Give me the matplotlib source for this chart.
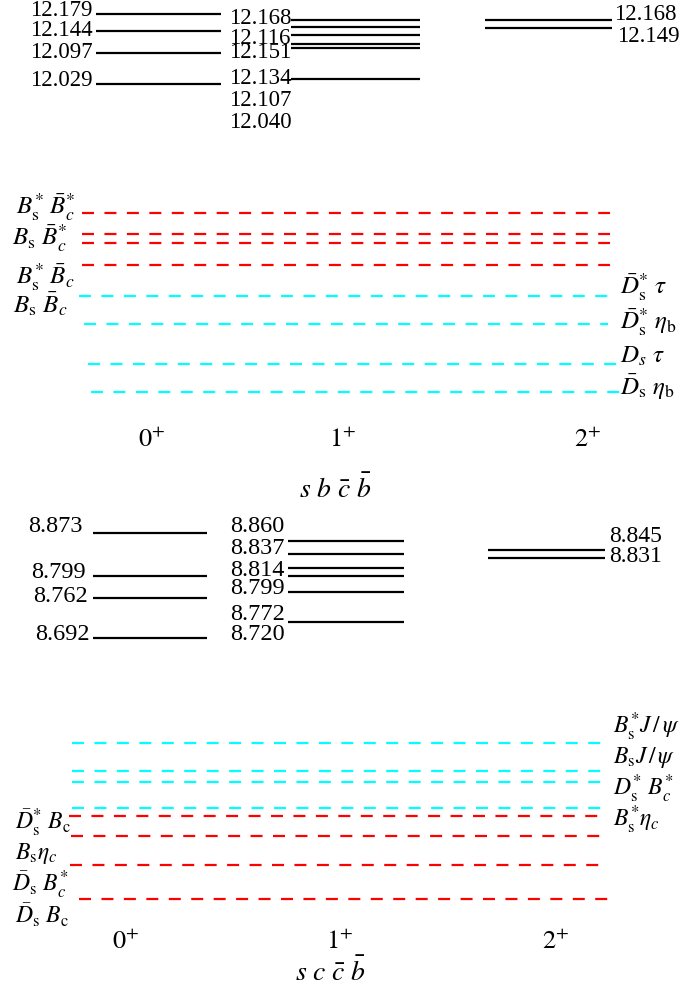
import matplotlib
matplotlib.use("Agg")
import matplotlib.pyplot as plt

plt.rcParams['font.family'] = 'serif'
plt.rcParams['font.serif'] = ['Liberation Serif', 'DejaVu Serif']
plt.rcParams['mathtext.fontset'] = 'stix'

# ---- data: s b cbar bbar (GeV) ----
top_J0 = [12.179, 12.144, 12.097, 12.029]
top_J1 = [12.168, 12.151, 12.134, 12.116, 12.107, 12.040]
top_J2 = [12.168, 12.149]
top_J1_labels = ['12.168', '12.116', '12.151', '12.134', '12.107', '12.040']
top_red = [11.752, 11.707, 11.688, 11.641]
top_cyan = [11.574, 11.513, 11.427, 11.367]
top_left_labels = [r'$B_{\rm s}^{*}\ \bar{B}_{c}^{*}$', r'$B_{\rm s}\ \bar{B}_{c}^{*}$',
                   r'$B_{\rm s}^{*}\ \bar{B}_{c}$', r'$B_{\rm s}\ \bar{B}_{c}$']
top_right_labels = [r'$\bar{D}_{\rm s}^{*}\ \tau$', r'$\bar{D}_{\rm s}^{*}\ \eta_{\rm b}$',
                    r'$D_{s}\ \tau$', r'$\bar{D}_{\rm s}\ \eta_{\rm b}$']

# ---- data: s c cbar bbar (GeV) ----
bot_J0 = [8.873, 8.799, 8.762, 8.692]
bot_J1 = [8.860, 8.837, 8.814, 8.799, 8.772, 8.720]
bot_J2 = [8.845, 8.831]
bot_J1_labels = ['8.860', '8.837', '8.814', '8.799', '8.772', '8.720']
bot_cyan = [8.512, 8.464, 8.445, 8.399]
bot_red = [8.386, 8.351, 8.301, 8.242]
bot_right_labels = [r'$B_{\rm s}^{*}J\,/\,\psi$', r'$B_{\rm s}J\,/\,\psi$',
                    r'$D_{\rm s}^{*}\ B_{c}^{*}$', r'$B_{\rm s}^{*}\eta_{c}$']
bot_left_labels = [r'$\bar{D}_{\rm s}^{*}\ B_{\rm c}$', r'$B_{\rm s}\eta_{c}$',
                   r'$\bar{D}_{\rm s}\ B_{c}^{*}$', r'$\bar{D}_{\rm s}\ B_{\rm c}$']

spin_labels = [r'$0^{+}$', r'$1^{+}$', r'$2^{+}$']

W, H = 683, 1000
fig = plt.figure(figsize=(W / 100, H / 100), dpi=100)


def txt(x, y, s, size=16, ha='left'):
    fig.text(x / W, 1 - y / H, s, fontsize=size, ha=ha, va='center')


dash = (0, (5.4, 4.7))

# top panel: figure pixels 0..400
ax1 = fig.add_axes([0, 0.6, 1, 0.4])
ax1.set_xlim(0, W)
ax1.set_ylim(11.350, 12.210)
ax1.axis('off')
ax1.hlines(top_J0, 96, 221, color='k', lw=1.6)
ax1.hlines(top_J1, 291, 420, color='k', lw=1.6)
ax1.hlines(top_J2, 485, 612, color='k', lw=1.6)
ax1.hlines(top_red, 82, 610, color='red', lw=1.6, linestyles=[dash])
for e, x0, x1 in zip(top_cyan, [79, 84, 88, 91], [608, 608, 617, 620]):
    ax1.hlines(e, x0, x1, color='cyan', lw=1.6, linestyles=[dash])

for s, y in zip(top_J0, [10, 31, 52, 80]):
    txt(93, y, f'{s:.3f}', size=16.5, ha='right')
for s, y in zip(top_J1_labels, [18, 39, 52, 78, 100, 122]):
    txt(229, y, s, size=16.5)
for s, x, y in zip(top_J2, [614, 617], [15, 37]):
    txt(x, y, f'{s:.3f}', size=16.5)
for s, x, y in zip(top_left_labels, [16, 12, 16, 13], [207, 238, 277, 304]):
    txt(x, y, s, size=18)
for s, y in zip(top_right_labels, [287, 322, 356, 387]):
    txt(620, y, s, size=18)
for s, x in zip(spin_labels, [152, 343, 588]):
    txt(x, 440, s, size=19, ha='center')
txt(335, 489, r'$s\ b\ \bar{c}\ \bar{b}$', size=20, ha='center')

# bottom panel: figure pixels 510..910
ax2 = fig.add_axes([0, 0.09, 1, 0.4])
ax2.set_xlim(0, W)
ax2.set_ylim(8.2235, 8.9132)
ax2.axis('off')
ax2.hlines(bot_J0, 93, 207, color='k', lw=1.6)
ax2.hlines(bot_J1, 288, 404, color='k', lw=1.6)
ax2.hlines(bot_J2, 488, 605, color='k', lw=1.6)
ax2.hlines(bot_cyan, 72, 607, color='cyan', lw=1.6, linestyles=[dash])
for e, x0, x1 in zip(bot_red, [69, 71, 70, 79], [606, 606, 606, 615]):
    ax2.hlines(e, x0, x1, color='red', lw=1.6, linestyles=[dash])

for s, x, y in zip(bot_J0, [83, 86, 88, 90], [527, 572, 596, 634]):
    txt(x, y, f'{s:.3f}', size=17.5, ha='right')
for s, y in zip(bot_J1_labels, [527, 549, 570, 589, 615, 635]):
    txt(230, y, s, size=17.5)
for s, y in zip(bot_J2, [537, 556]):
    txt(609, y, f'{s:.3f}', size=17)
for s, y in zip(bot_right_labels, [727, 758, 789, 820]):
    txt(613, y, s, size=17)
for s, x, y in zip(bot_left_labels, [15, 15, 12, 15], [823, 853, 885, 915]):
    txt(x, y, s, size=17)
for s, x in zip(spin_labels, [126, 340, 556]):
    txt(x, 942, s, size=19, ha='center')
txt(330, 972, r'$s\ c\ \bar{c}\ \bar{b}$', size=20, ha='center')

fig.savefig('out.png', dpi=100)
